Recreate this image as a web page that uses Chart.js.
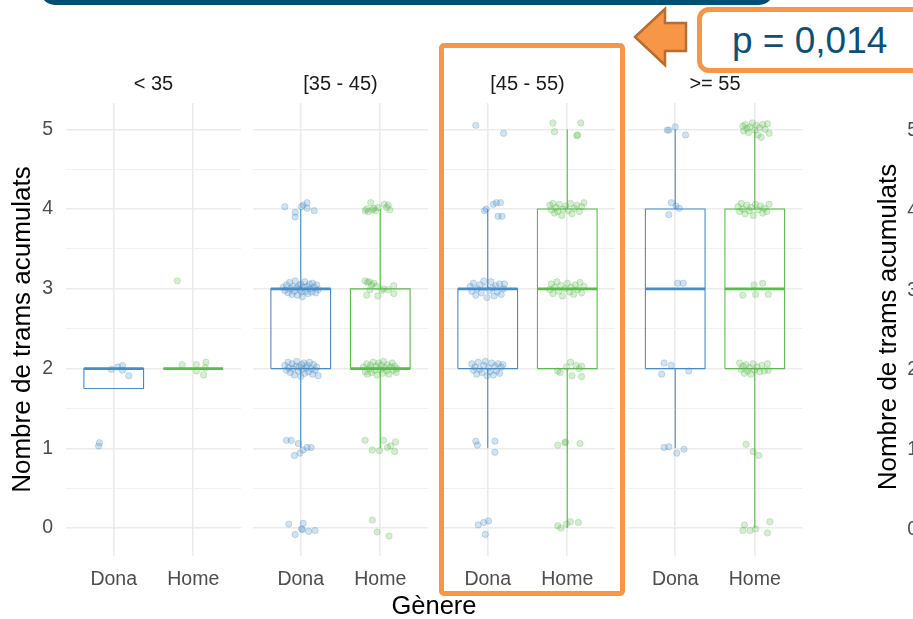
<!DOCTYPE html>
<html>
<head>
<meta charset="utf-8">
<script src="https://cdn.jsdelivr.net/npm/chart.js@4.4.0/dist/chart.umd.min.js"></script>
<style>
  html, body { margin: 0; padding: 0; background: #fff; overflow: hidden; }
  #page { position: relative; width: 913px; height: 619px; overflow: hidden; font-family: 'Liberation Sans', Arial, sans-serif; }
  canvas.panel { position: absolute; left: 0; top: 0; z-index: 1; }
  .deco { position: absolute; z-index: 5; }
  #topbar { left: 40px; top: -25px; width: 734px; height: 30px; background: #004e73; border-radius: 16px; }
  #highlight { left: 439px; top: 43px; width: 186px; height: 553px; border: 5px solid #f79646; border-radius: 5px; box-sizing: border-box; }
  #pbox { left: 697px; top: 7px; width: 260px; height: 66px; border: 5px solid #f79646; border-radius: 12px; box-sizing: border-box; background: #fff; }
  #ptext { left: 732px; top: 21px; font-size: 37px; line-height: 40px; color: #0d4f75; white-space: nowrap; z-index: 6; }
  #xtitle { left: 334px; top: 590px; width: 200px; text-align: center; font-size: 25.5px; line-height: 30px; color: #000; }
  #ytitle2 { left: 687px; top: 312px; width: 400px; height: 30px; line-height: 30px; text-align: center; font-size: 26px; color: #000; transform: rotate(-90deg); }
  .ytick2 { left: 880px; width: 38px; height: 24px; line-height: 24px; text-align: right; font-size: 19.5px; color: #4d4d4d; }
</style>
</head>
<body>
<div id="page">
  <canvas class="panel" id="p0" width="913" height="619"></canvas>
  <canvas class="panel" id="p1" width="913" height="619"></canvas>
  <canvas class="panel" id="p2" width="913" height="619"></canvas>
  <canvas class="panel" id="p3" width="913" height="619"></canvas>

  <div class="deco" id="topbar"></div>
  <div class="deco" id="highlight"></div>
  <svg class="deco" style="left:0;top:0;" width="913" height="100">
    <polygon points="635,37 665,9 665,23 686,23 686,51 665,51 665,65" fill="#f79646" stroke="#b66d31" stroke-width="2.5" stroke-linejoin="miter"/>
  </svg>
  <div class="deco" id="pbox"></div>
  <div class="deco" id="ptext">p = 0,014</div>
  <div class="deco" id="xtitle">Gènere</div>
  <div class="deco" id="ytitle2">Nombre de trams acumulats</div>
  <div id="ticks2"></div>
</div>

<script>
// Facetes i categories
const facets = ['< 35', '[35 - 45)', '[45 - 55)', '>= 55'];
const genders = ['Dona', 'Home'];
const yBreaks = [0, 0.5, 1, 1.5, 2, 2.5, 3, 3.5, 4, 4.5, 5];

// Estadístics de les caixes [Dona, Home] per facet
const q1      = [[1.75, 2], [2, 2], [2, 2], [2, 2]];
const medians = [[2, 2],    [3, 2], [3, 3], [3, 3]];
const q3      = [[2, 2],    [3, 3], [3, 4], [4, 4]];
const whiskLo = [[1.75, 2], [1, 1], [1, 0], [1, 0]];
const whiskHi = [[2, 2],    [4, 4], [4, 5], [5, 5]];

// Punts (desplaçament horitzontal del jitter, valor)
const pointsDona = [
  [[-0.03,1.99],[0.05,2.02],[0.11,2.04],[0.11,1.98],[0.19,1.91],[-0.18,1.07],[-0.19,1.03]],
  [[-0.2,4.03],[-0.07,3.96],[-0.07,3.9],[0.01,4.03],[0.03,4.05],[0.08,4.08],[0.08,4.01],[0.17,3.98],
   [-0.22,3.02],[-0.2,2.98],[-0.18,3.05],[-0.16,2.95],[-0.14,3.08],[-0.13,3.0],[-0.11,2.93],[-0.1,3.03],[-0.08,2.97],[-0.07,3.1],
   [-0.05,3.01],[-0.04,2.92],[-0.02,3.04],[-0.01,2.99],[0.0,3.06],[0.01,2.96],[0.02,2.9],[0.04,3.02],[0.05,3.09],[0.06,2.97],
   [0.08,3.03],[0.09,2.94],[0.11,3.06],[0.12,3.0],[0.14,2.96],[0.15,3.07],[0.17,3.02],[0.19,2.95],[0.2,3.05],[0.22,2.99],
   [-0.2,2.04],[-0.18,1.98],[-0.16,2.08],[-0.15,2.01],[-0.13,1.95],[-0.11,2.06],[-0.1,2.0],[-0.08,1.92],[-0.06,2.03],[-0.05,2.09],
   [-0.03,1.97],[-0.02,2.02],[0.0,1.9],[0.01,2.05],[0.02,1.99],[0.04,2.07],[0.05,1.94],[0.07,2.01],[0.08,2.04],[0.1,1.96],
   [0.11,2.08],[0.13,2.0],[0.15,1.93],[0.16,2.05],[0.18,1.98],[0.2,2.02],[0.22,1.91],
   [-0.18,1.1],[-0.12,1.1],[-0.03,1.06],[-0.08,0.91],[-0.01,0.94],[0.03,0.98],[0.08,1.01],[0.13,1.01],
   [-0.15,0.05],[0.03,0.06],[0.01,-0.01],[-0.07,-0.08],[0.1,-0.04],[0.18,-0.03],[0.02,-0.02]],
  [[-0.15,5.05],[0.2,4.95],
   [-0.04,3.98],[0.07,4.06],[0.11,4.08],[0.16,4.08],[0.13,3.91],[0.18,3.91],[-0.02,4.0],
   [-0.22,3.03],[-0.2,2.97],[-0.18,3.07],[-0.15,2.92],[-0.13,3.0],[-0.1,3.05],[-0.08,2.95],[-0.05,3.1],[-0.03,3.02],[-0.01,2.89],
   [0.02,2.98],[0.04,3.09],[0.06,3.01],[0.08,2.91],[0.1,3.04],[0.12,2.96],[0.15,3.06],[0.17,2.93],[0.2,3.0],[0.21,3.06],
   [-0.2,2.06],[-0.18,1.98],[-0.16,2.02],[-0.14,1.93],[-0.12,2.08],[-0.1,1.99],[-0.07,1.95],[-0.05,2.04],[-0.03,2.09],[-0.01,1.91],
   [0.01,2.01],[0.03,1.96],[0.05,2.07],[0.07,1.92],[0.09,2.03],[0.11,1.97],[0.13,2.06],[0.15,1.94],[0.17,2.02],[0.19,2.05],
   [-0.15,1.09],[-0.13,1.04],[0.09,1.09],[0.09,0.95],
   [-0.12,0.04],[-0.05,0.07],[0.01,0.09],[-0.03,-0.08]],
  [[-0.1,4.99],[-0.08,4.99],[0.0,5.03],[0.13,4.93],
   [-0.05,4.08],[0.01,4.04],[0.05,4.01],[-0.08,3.93],
   [0.03,3.07],[0.1,3.07],
   [-0.14,2.07],[-0.05,2.04],[-0.17,1.93],[0.17,1.97],
   [-0.14,1.01],[-0.08,1.02],[0.02,0.94],[0.11,0.99]]
];
const pointsHome = [
  [[-0.14,2.05],[0.04,2.05],[0.16,2.08],[0.04,1.97],[0.13,1.92],[0.15,2.01],[-0.2,3.1]],
  [[-0.19,3.98],[-0.17,4.0],[-0.15,3.97],[-0.12,4.08],[-0.1,3.99],[-0.08,4.01],[-0.06,3.98],[-0.03,4.02],[0.05,4.06],[0.08,4.02],[0.1,4.05],[0.12,3.99],
   [-0.19,3.1],[-0.16,3.08],[-0.14,3.09],[-0.11,3.05],[-0.08,3.07],[-0.13,2.99],[-0.17,2.92],[-0.03,2.91],[0.04,3.0],[0.1,2.99],[0.17,3.04],[0.17,2.94],[0.02,2.98],[-0.05,3.03],
   [-0.21,2.02],[-0.19,1.96],[-0.17,2.06],[-0.16,1.93],[-0.14,2.0],[-0.12,2.04],[-0.11,1.95],[-0.09,2.08],[-0.07,1.98],[-0.05,2.03],
   [-0.04,1.92],[-0.02,2.07],[0.0,1.99],[0.01,2.04],[0.03,1.94],[0.04,2.09],[0.06,2.01],[0.08,1.97],[0.09,2.05],[0.11,1.93],
   [0.13,2.02],[0.15,2.07],[0.16,1.98],[0.18,2.03],[0.2,1.95],[0.21,2.0],
   [-0.19,1.1],[-0.1,0.98],[-0.01,0.97],[0.04,1.1],[0.09,1.01],[0.13,1.03],[0.19,1.08],[0.18,0.96],
   [-0.1,0.1],[-0.04,-0.05],[0.11,-0.1]],
  [[-0.18,5.08],[-0.16,4.97],[0.17,5.08],[0.12,4.92],[0.13,4.93],
   [-0.22,4.05],[-0.2,3.99],[-0.18,4.07],[-0.16,3.95],[-0.14,4.02],[-0.12,3.97],[-0.1,4.06],[-0.07,3.92],[-0.05,4.0],[-0.02,4.04],
   [0.01,3.98],[0.04,4.07],[0.06,3.94],[0.09,4.01],[0.12,4.05],[0.15,3.97],[0.18,4.03],[0.21,4.08],
   [-0.22,2.99],[-0.2,3.06],[-0.18,2.94],[-0.16,3.02],[-0.13,3.09],[-0.11,2.97],[-0.08,3.04],[-0.06,2.91],[-0.03,3.0],
   [0.0,3.07],[0.03,2.96],[0.05,3.02],[0.08,2.93],[0.1,3.05],[0.13,2.99],[0.16,3.08],[0.18,2.95],[0.21,3.03],
   [-0.12,1.97],[-0.09,1.95],[-0.01,2.02],[0.04,2.08],[0.11,2.04],[0.18,2.03],[0.06,1.91],[0.18,1.9],[0.15,2.0],
   [-0.12,1.04],[-0.02,1.08],[0.16,1.06],[-0.03,1.07],
   [-0.12,0.03],[-0.08,0.0],[-0.01,0.05],[0.04,0.08],[0.14,0.07]],
  [[-0.15,5.04],[-0.14,4.98],[-0.12,5.06],[-0.1,5.01],[-0.08,4.96],[-0.06,5.03],[-0.03,5.08],[0.0,4.99],
   [0.02,5.05],[0.04,4.93],[0.06,5.02],[0.08,4.9],[0.1,5.06],[0.13,5.0],[0.16,5.07],[0.18,4.95],
   [-0.21,4.03],[-0.19,3.97],[-0.17,4.07],[-0.15,4.0],[-0.12,3.94],[-0.1,4.05],[-0.07,3.98],[-0.05,4.02],
   [-0.02,3.92],[0.01,4.06],[0.04,3.99],[0.07,4.04],[0.1,3.95],[0.12,4.01],[0.15,3.97],[0.18,4.06],
   [-0.15,2.92],[0.01,2.93],[0.17,2.93],[-0.01,3.05],[0.1,3.07],
   [-0.19,2.07],[-0.17,1.99],[-0.15,2.03],[-0.13,1.94],[-0.11,2.05],[-0.09,1.97],[-0.07,2.01],[-0.05,1.93],
   [-0.02,2.06],[0.0,1.98],[0.03,2.02],[0.06,1.96],[0.09,2.04],[0.12,1.97],[0.16,2.06],[0.17,1.98],
   [-0.11,1.05],[-0.02,0.96],[0.05,0.91],
   [-0.13,0.04],[-0.15,-0.03],[-0.06,-0.03],[0.01,-0.01],[0.19,0.08],[0.16,-0.06]]
];

const lineColors = ['#4a8cc2', '#5cb94f'];
const fillColors = ['rgba(74,140,194,0.25)', 'rgba(92,185,79,0.25)'];
const edgeColors = ['rgba(74,140,194,0.32)', 'rgba(92,185,79,0.32)'];
const panelLeft = [66, 253, 440, 627.5];
const panelWidth = 175;
const boxHalf = 0.375;

Chart.defaults.font.family = "'Liberation Sans', Arial, sans-serif";

function seg(data, color, width) {
    return { data: data, showLine: true, borderColor: color, borderWidth: width,
             pointRadius: 0, fill: false, tension: 0 };
}

function panelDatasets(f) {
    const sets = [];
    // punts primer perquè quedin per sobre
    genders.forEach((g, i) => {
        const c = i + 1;
        const pts = (i === 0 ? pointsDona : pointsHome)[f];
        sets.push({
            data: pts.map(p => ({ x: c + p[0], y: p[1] })),
            showLine: false,
            pointRadius: 3.2,
            pointBackgroundColor: fillColors[i],
            pointBorderColor: edgeColors[i],
            pointBorderWidth: 0.8
        });
    });
    genders.forEach((g, i) => {
        const c = i + 1, col = lineColors[i];
        sets.push(seg([{ x: c - boxHalf, y: medians[f][i] }, { x: c + boxHalf, y: medians[f][i] }], col, 2.6));
        sets.push(seg([
            { x: c - boxHalf, y: q1[f][i] }, { x: c - boxHalf, y: q3[f][i] },
            { x: c + boxHalf, y: q3[f][i] }, { x: c + boxHalf, y: q1[f][i] },
            { x: c - boxHalf, y: q1[f][i] }
        ], col, 1.1));
        sets.push(seg([{ x: c, y: whiskLo[f][i] }, { x: c, y: q1[f][i] }], col, 1.1));
        sets.push(seg([{ x: c, y: q3[f][i] }, { x: c, y: whiskHi[f][i] }], col, 1.1));
    });
    return sets;
}

facets.forEach((name, f) => {
    const first = f === 0;
    new Chart(document.getElementById('p' + f), {
        type: 'scatter',
        data: { datasets: panelDatasets(f) },
        options: {
            responsive: false,
            animation: false,
            events: [],
            layout: {
                padding: {
                    left: first ? 0 : panelLeft[f],
                    right: 913 - panelLeft[f] - panelWidth,
                    top: 72,
                    bottom: 23
                }
            },
            plugins: {
                legend: { display: false },
                tooltip: { enabled: false },
                title: {
                    display: true,
                    fullSize: false,
                    text: name,
                    color: '#1a1a1a',
                    font: { size: 20, weight: 'normal' },
                    padding: { top: 0, bottom: 7 }
                }
            },
            scales: {
                x: {
                    type: 'linear',
                    min: 0.4,
                    max: 2.6,
                    afterBuildTicks: s => { s.ticks = genders.map((g, i) => ({ value: i + 1 })); },
                    afterFit: s => { s.height = 40; },
                    ticks: {
                        callback: v => genders[v - 1],
                        color: '#4d4d4d',
                        font: { size: 19.5 },
                        padding: 12,
                        maxRotation: 0,
                        autoSkip: false
                    },
                    grid: { color: '#ebebeb', lineWidth: 1.6, drawTicks: false },
                    border: { display: false }
                },
                y: {
                    min: -0.35,
                    max: 5.33,
                    afterBuildTicks: s => { s.ticks = yBreaks.map(v => ({ value: v })); },
                    afterFit: s => { s.width = first ? 66 : 0; },
                    ticks: {
                        display: first,
                        callback: v => Number.isInteger(v) ? String(v) : '',
                        color: '#4d4d4d',
                        font: { size: 19.5 },
                        padding: 13
                    },
                    grid: {
                        color: c => Number.isInteger(c.tick.value) ? '#ebebeb' : '#f0f0f0',
                        lineWidth: c => Number.isInteger(c.tick.value) ? 1.6 : 1,
                        drawTicks: false
                    },
                    border: { display: false },
                    title: {
                        display: first,
                        text: 'Nombre de trams acumulats',
                        color: '#000',
                        font: { size: 26 },
                        padding: { top: 7, bottom: 0 }
                    }
                }
            }
        }
    });
});

// eixos del gràfic veí (tallat a la dreta)
const ticks2 = document.getElementById('ticks2');
[5, 4, 3, 2, 1, 0].forEach((v, k) => {
    const d = document.createElement('div');
    d.className = 'deco ytick2';
    d.style.top = (129 + k * 79.8 - 12) + 'px';
    d.textContent = v;
    ticks2.appendChild(d);
});
</script>
</body>
</html>
